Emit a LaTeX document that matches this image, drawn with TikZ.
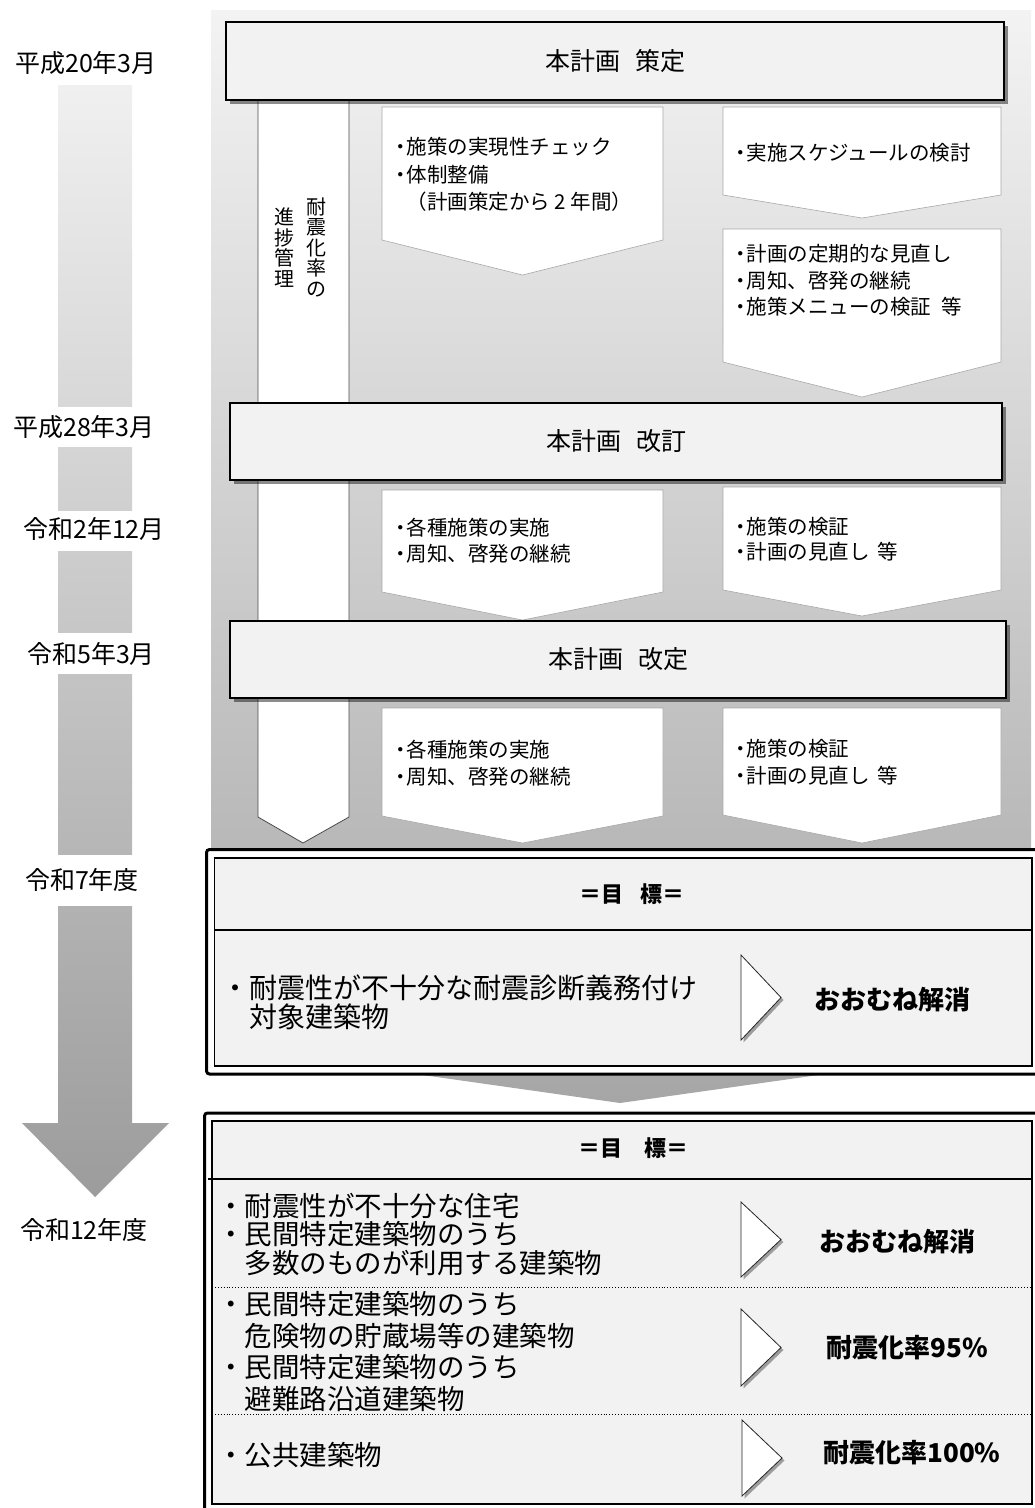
\documentclass[tikz,border=0pt]{standalone}
\usepackage{fontspec}
\setmainfont{Noto Sans CJK JP}
\usetikzlibrary{shadows}
\definecolor{lg}{HTML}{F2F2F2}
\definecolor{panelTop}{HTML}{F3F3F3}
\definecolor{panelBot}{HTML}{A6A6A6}
\definecolor{barTop}{HTML}{F0F0F0}
\definecolor{barBot}{HTML}{9C9C9C}
\definecolor{pentline}{HTML}{A8A8A8}
\definecolor{bandline}{HTML}{4A4A4A}
\newcommand{\bul}{\makebox[0.6em][c]{・}}
\tikzset{
  datelbl/.style={font=\fontsize{25}{28}\selectfont, inner sep=0pt},
  pentshape/.style={draw=pentline, line width=0.6pt, fill=white},
  titlebox/.style={draw=black, line width=2.2pt, fill=lg, inner sep=0pt,
     font=\fontsize{25}{30}\selectfont,
     drop shadow={shadow xshift=3.5pt, shadow yshift=-3.5pt, opacity=0.45, fill=black}},
  ptxt/.style={anchor=west, inner sep=0pt, align=left, font=\fontsize{20.5}{26.5}\selectfont},
  vtxt/.style={inner sep=0pt, align=center, font=\fontsize{20}{20.5}\selectfont},
  gtxt/.style={anchor=west, inner sep=0pt, align=left},
  gres/.style={inner sep=0pt, font=\fontsize{26}{30}\selectfont\bfseries},
  ghead/.style={inner sep=0pt, font=\fontsize{22}{26}\selectfont\bfseries},
  tri/.style={draw=black!85, line width=0.8pt, fill=white,
     drop shadow={shadow xshift=2.5pt, shadow yshift=-2.5pt, opacity=0.35, fill=black}},
}
\begin{document}
\begin{tikzpicture}[x=1pt,y=-1pt]
\useasboundingbox (0,0) rectangle (1034,1508);
% background panel (large arrow)
\shade[top color=panelTop, bottom color=panelBot]
  (211,10) -- (1031,10) -- (1031,1045) -- (620,1103) -- (211,1045) -- cycle;
% timeline bar
\shade[top color=barTop, bottom color=barBot]
  (58,85) -- (132,85) -- (132,1123) -- (169,1123) -- (95,1197) -- (22,1123) -- (58,1123) -- cycle;
\fill[white] (50,407) rectangle (140,447);
\fill[white] (50,511) rectangle (140,551);
\fill[white] (50,633) rectangle (140,674);
\fill[white] (50,855) rectangle (140,906);
% date labels
\node[datelbl] (d1) at (86,63) {平成20年3月};
\node[datelbl] (d2) at (84,427) {平成28年3月};
\node[datelbl] (d3) at (94,529) {令和2年12月};
\node[datelbl] (d4) at (91,654) {令和5年3月};
\node[datelbl] (d5) at (82,880) {令和7年度};
\node[datelbl] (d6) at (84,1230) {令和12年度};
% progress band
\draw[draw=bandline, line width=0.8pt, fill=white]
  (258,95) -- (258,817) -- (303,843) -- (349,817) -- (349,95);
\node[vtxt] (v1) at (316,247) {耐\\震\\化\\率\\の};
\node[vtxt] (v2) at (284,247.5) {進\\捗\\管\\理};
% pentagon arrows
\draw[pentshape] (382,107) -- (663,107) -- (663,240) -- (522.5,275) -- (382,240) -- cycle;
\draw[pentshape] (723,107) -- (1001,107) -- (1001,195) -- (862,218) -- (723,195) -- cycle;
\draw[pentshape] (723,229) -- (1001,229) -- (1001,362) -- (862,397) -- (723,362) -- cycle;
\draw[pentshape] (382,490) -- (663,490) -- (663,592) -- (522.5,620) -- (382,592) -- cycle;
\draw[pentshape] (723,487) -- (1001,487) -- (1001,590) -- (862,616) -- (723,590) -- cycle;
\draw[pentshape] (382,708) -- (663,708) -- (663,816) -- (522.5,843) -- (382,816) -- cycle;
\draw[pentshape] (723,708) -- (1001,708) -- (1001,815) -- (862,843) -- (723,815) -- cycle;
\node[ptxt, font=\fontsize{20.5}{27.5}\selectfont] (p1) at (394,174.5) {\bul 施策の実現性チェック\\\bul 体制整備\\\hspace{0.6em}（計画策定から 2 年間）};
\node[ptxt] (p2) at (734,153) {\bul 実施スケジュールの検討};
\node[ptxt] (p3) at (734,280.5) {\bul 計画の定期的な見直し\\\bul 周知、啓発の継続\\\bul 施策メニューの検証\hspace{0.5em}等};
\node[ptxt] (p4) at (394,540.5) {\bul 各種施策の実施\\\bul 周知、啓発の継続};
\node[ptxt, font=\fontsize{20.5}{25}\selectfont] (p5) at (734,539.5) {\bul 施策の検証\\\bul 計画の見直し\hspace{0.4em}等};
\node[ptxt] (p6) at (394,763) {\bul 各種施策の実施\\\bul 周知、啓発の継続};
\node[ptxt] (p7) at (734,762) {\bul 施策の検証\\\bul 計画の見直し\hspace{0.4em}等};
% title boxes
\node[titlebox, minimum width=778pt, minimum height=78pt] (t1) at (615,61) {本計画\hspace{0.6em}策定};
\node[titlebox, minimum width=772pt, minimum height=77pt] (t2) at (616,441.5) {本計画\hspace{0.6em}改訂};
\node[titlebox, minimum width=776pt, minimum height=77pt] (t3) at (618,659.5) {本計画\hspace{0.6em}改定};
% goal box 1
\draw[line width=3pt, rounded corners=3pt, fill=white] (206.5,849.5) rectangle (1045,1074);
\draw[line width=1.8pt, fill=lg] (214.5,858) rectangle (1032,1066);
\draw[line width=1.5pt] (214.5,930) -- (1032,930);
\node[ghead] (h1) at (632,894) {＝目\hspace{0.8em}標＝};
\node[gtxt, font=\fontsize{28}{29}\selectfont] (g1) at (221,1002.5) {・耐震性が不十分な耐震診断義務付け\\\hspace{1em}対象建築物};
\draw[tri] (741,955) -- (781,997.5) -- (741,1040) -- cycle;
\node[gres] (r1) at (892,1000) {おおむね解消};
% goal box 2
\draw[line width=3pt, rounded corners=3pt, fill=white] (204.5,1113) rectangle (1045,1515);
\draw[line width=1.8pt, fill=lg] (212,1121) rectangle (1032,1504);
\draw[line width=1.5pt] (208,1179) -- (1032,1179);
\draw[dotted, line width=0.9pt] (212,1287) -- (1032,1287);
\draw[dotted, line width=0.9pt] (212,1414) -- (1032,1414);
\node[ghead] (h2) at (633,1148) {＝目　標＝};
\node[gtxt, font=\fontsize{27.5}{28.5}\selectfont] (g2) at (217,1234.5) {・耐震性が不十分な住宅\\・民間特定建築物のうち\\\hspace{1em}多数のものが利用する建築物};
\node[gtxt, font=\fontsize{27.5}{31.5}\selectfont] (g3) at (217,1351.5) {・民間特定建築物のうち\\\hspace{1em}危険物の貯蔵場等の建築物\\・民間特定建築物のうち\\\hspace{1em}避難路沿道建築物};
\node[gtxt, font=\fontsize{27.5}{30}\selectfont] (g4) at (217,1455) {・公共建築物};
\draw[tri] (741,1202) -- (781,1239.5) -- (741,1277) -- cycle;
\draw[tri] (741,1309) -- (781,1347.5) -- (741,1386) -- cycle;
\draw[tri] (742,1420) -- (782,1458) -- (742,1496) -- cycle;
\node[gres] (r2) at (897,1242) {おおむね解消};
\node[gres] (r3) at (907,1348) {耐震化率95\%};
\node[gres] (r4) at (912,1453) {耐震化率100\%};
\end{tikzpicture}
\end{document}
